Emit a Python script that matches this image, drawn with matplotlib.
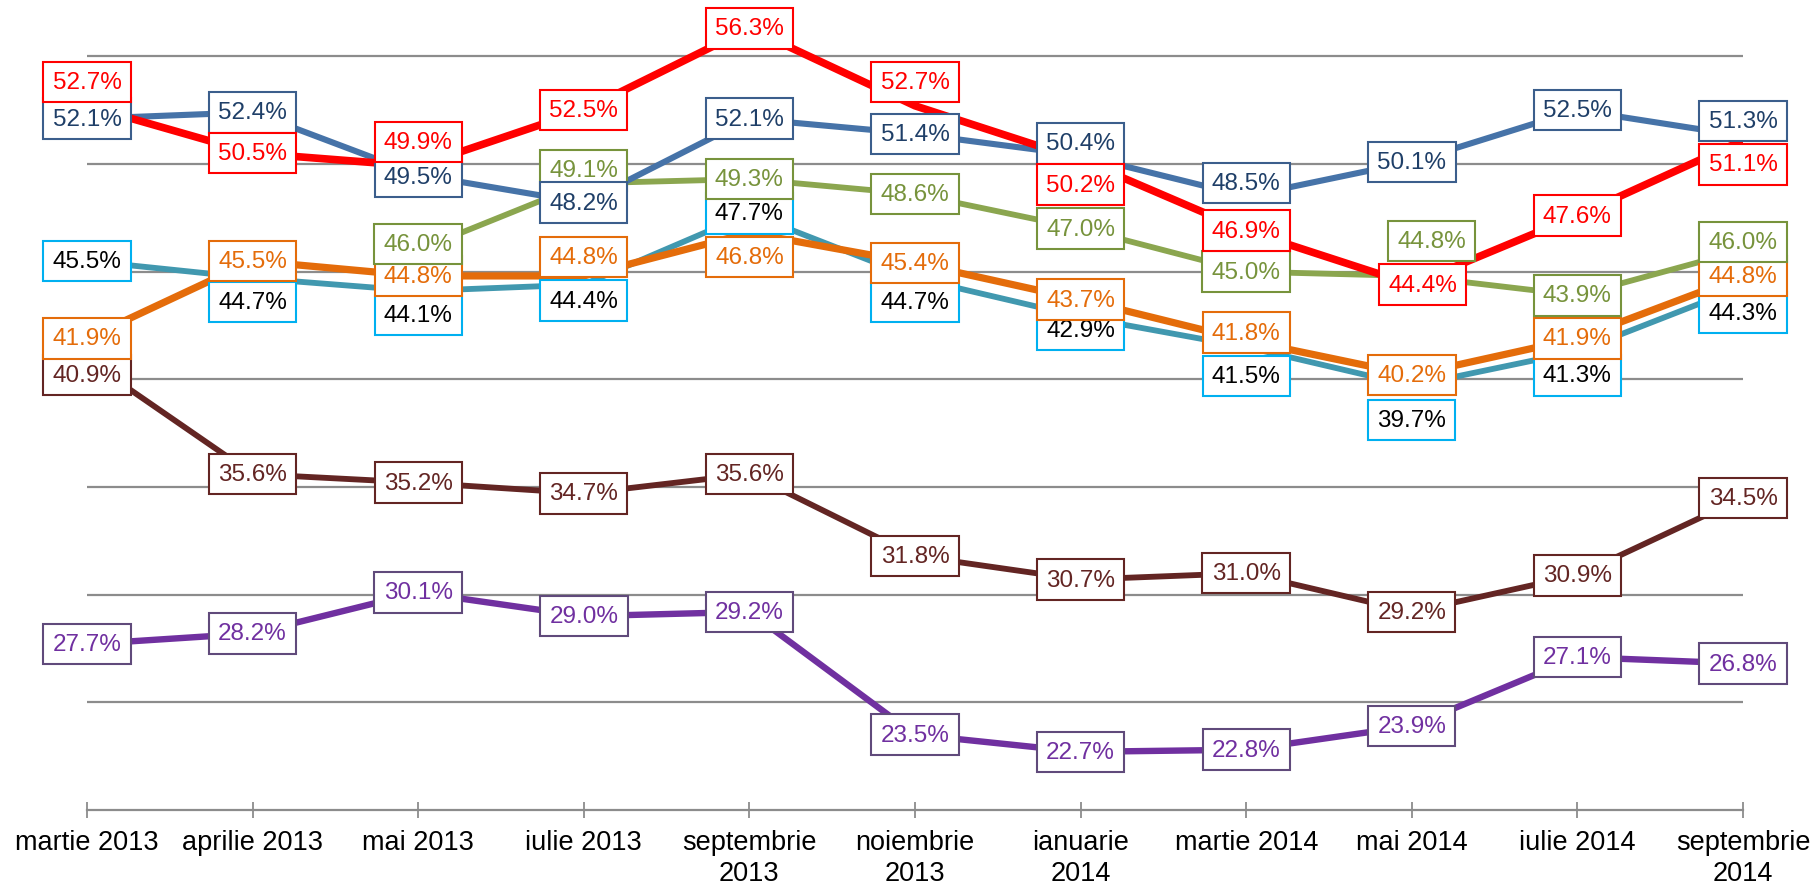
import matplotlib.pyplot as plt
import numpy as np

plt.rcParams["font.family"] = ["Liberation Sans", "DejaVu Sans"]

months = ["martie 2013", "aprilie 2013", "mai 2013", "iulie 2013", "septembrie\n2013",
          "noiembrie\n2013", "ianuarie\n2014", "martie 2014", "mai 2014", "iulie 2014",
          "septembrie\n2014"]

red = [52.7, 50.5, 49.9, 52.5, 56.3, 52.7, 50.2, 46.9, 44.4, 47.6, 51.1]
blue = [52.1, 52.4, 49.5, 48.2, 52.1, 51.4, 50.4, 48.5, 50.1, 52.5, 51.3]
green = [np.nan, np.nan, 46.0, 49.1, 49.3, 48.6, 47.0, 45.0, 44.8, 43.9, 46.0]
orange = [41.9, 45.5, 44.8, 44.8, 46.8, 45.4, 43.7, 41.8, 40.2, 41.9, 44.8]
teal = [45.5, 44.7, 44.1, 44.4, 47.7, 44.7, 42.9, 41.5, 39.7, 41.3, 44.3]
brown = [40.9, 35.6, 35.2, 34.7, 35.6, 31.8, 30.7, 31.0, 29.2, 30.9, 34.5]
purple = [27.7, 28.2, 30.1, 29.0, 29.2, 23.5, 22.7, 22.8, 23.9, 27.1, 26.8]

# label offsets in pixels (dx, dy downward)
z = (0, 0)
off_red = [(0, -24), z, (0, -24), z, z, (0, -24), (0, 25), z, (11, 0), z, (0, 24)]
off_blue = [z, z, (0, 2), z, z, z, (0, -12), (0, -13), z, z, (0, -15)]
off_green = [z, z, (0, -6), (0, -13), z, z, z, z, (20, -35), z, (0, -8)]
off_orange = [z, z, z, (0, -19), (0, 24), z, z, (0, -8), z, z, z]
off_teal = [z, (0, 24), (0, 24), (0, 16), z, (0, 24), (0, 13), (0, 29), (0, 34), (0, 24), (0, 26)]
off_brown = [(0, 15)] + [z] * 10
off_purple = [z] * 11

# (values, line colour, width, text colour, border colour, offsets)
series = [
    (purple, "#7030A0", 4.6, "#7030A0", "#604A7B", off_purple),
    (brown, "#632523", 4.2, "#632523", "#632523", off_brown),
    (teal, "#4198AF", 4.2, "black", "#00B0F0", off_teal),
    (orange, "#E46C0A", 5.2, "#E46C0A", "#E46C0A", off_orange),
    (green, "#8BA64F", 4.2, "#77933C", "#77933C", off_green),
    (blue, "#4673A8", 4.4, "#1F3F68", "#3B5E8C", off_blue),
    (red, "#FF0000", 5.5, "#FF0000", "#FF0000", off_red),
]

fig = plt.figure(figsize=(18.16, 8.87), dpi=100)
ax = fig.add_axes([87 / 1816, 1 - 811 / 887, 1656 / 1816, 811 / 887])

x = np.arange(len(months))
for vals, lc, lw, tc, ec, offs in series:
    ax.plot(x, vals, color=lc, lw=lw, zorder=3, solid_joinstyle="miter")

for vals, lc, lw, tc, ec, offs in series:
    for xi, v, (dx, dy) in zip(x, vals, offs):
        if np.isnan(v):
            continue
        ax.annotate(f"{v:.1f}%", (xi, v), xytext=(dx, -dy), textcoords="offset pixels",
                    ha="center", va="center", fontsize=17.5, color=tc, zorder=5,
                    annotation_clip=False,
                    bbox=dict(boxstyle="square,pad=0.38", fc="white", ec=ec, lw=1.5))

ax.set_xlim(0, 10)
ax.set_ylim(20, 57.66)
ax.set_yticks([25, 30, 35, 40, 45, 50, 55])
ax.yaxis.grid(True, color="#8C8C8C", lw=1.6)
ax.set_axisbelow(True)
ax.tick_params(axis="y", left=False, labelleft=False)
ax.set_xticks(x)
ax.set_xticklabels(months, fontsize=19.5, linespacing=1.28)
ax.tick_params(axis="x", direction="inout", length=11, width=1.3, color="#8C8C8C", pad=8)
for s in ["left", "right", "top"]:
    ax.spines[s].set_visible(False)
ax.spines["bottom"].set_color("#8C8C8C")
ax.spines["bottom"].set_linewidth(1.6)

plt.savefig("out.png", dpi=100)
